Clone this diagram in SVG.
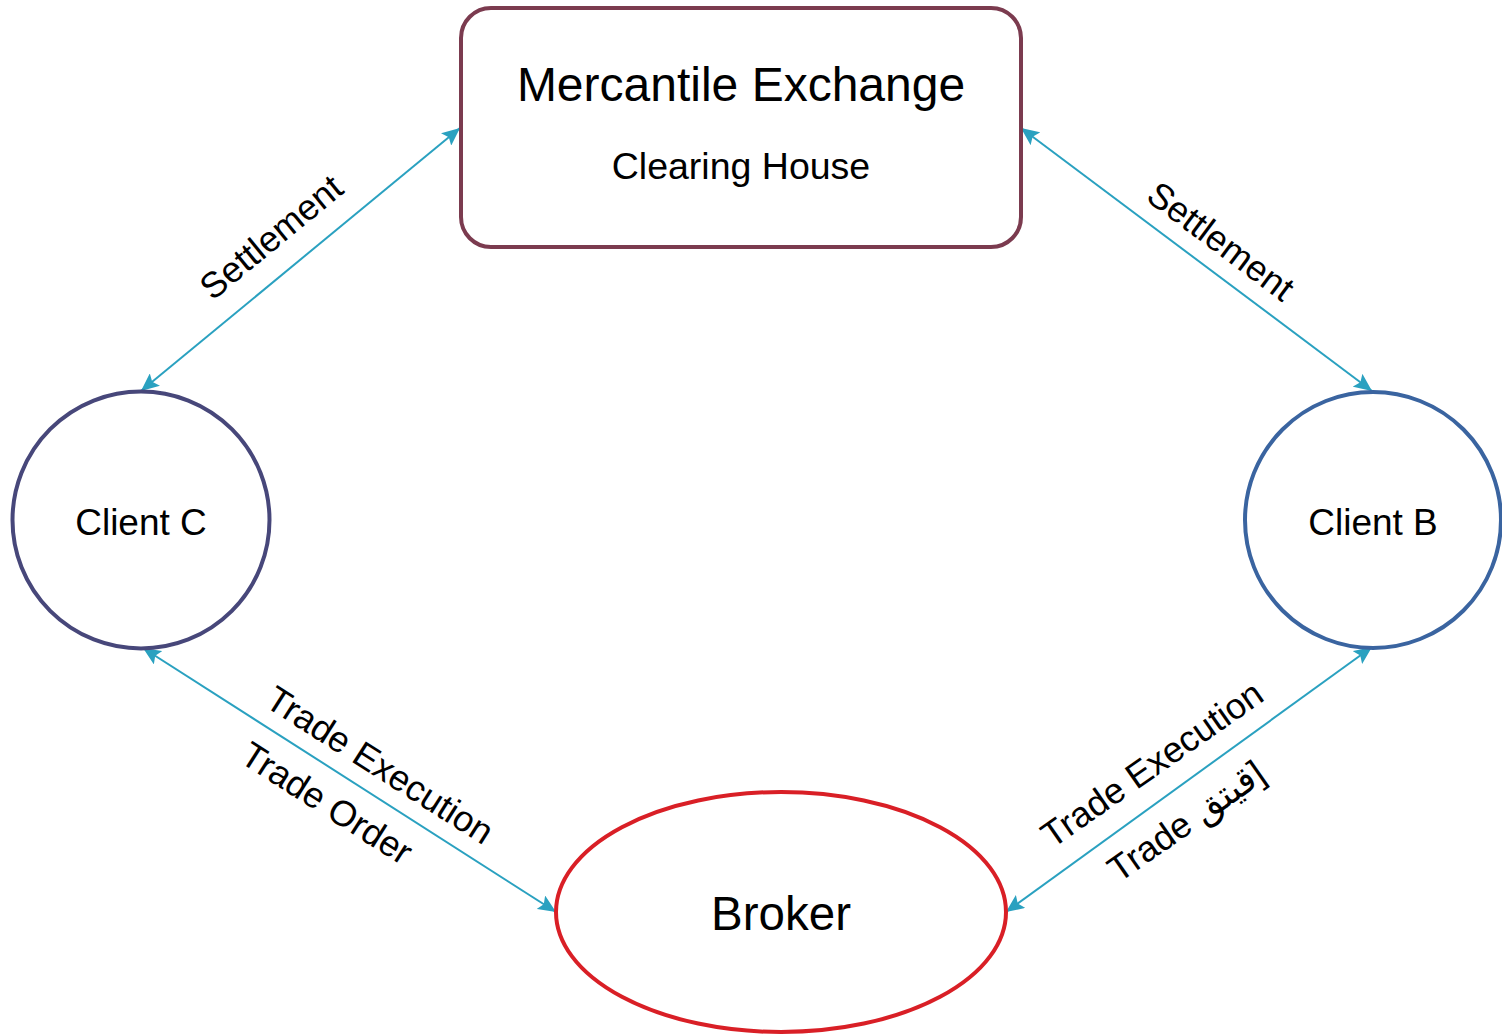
<svg xmlns="http://www.w3.org/2000/svg" width="1502" height="1034" viewBox="0 0 1502 1034">
<style>
text{font-family:"Liberation Sans","DejaVu Sans",Arial,sans-serif;fill:#000}
.lbl{font-size:36px;text-anchor:middle}
.node{fill:#fff;stroke-width:4}
.conn{stroke:#2aa1c0;stroke-width:2;fill:none;marker-start:url(#ah);marker-end:url(#ah)}
</style>
<defs>
<marker id="ah" markerUnits="userSpaceOnUse" markerWidth="20" markerHeight="16" refX="18" refY="8" orient="auto-start-reverse">
<path d="M0,0 L18,8 L0,16 L3.5,8 z" fill="#2aa1c0"/>
</marker>
</defs>
<rect width="1502" height="1034" fill="#fff"/>
<g id="connectors">
<line class="conn" x1="141" y1="391" x2="460" y2="128"/>
<line class="conn" x1="1021" y1="128" x2="1372" y2="391"/>
<line class="conn" x1="143" y1="648" x2="556" y2="912"/>
<line class="conn" x1="1372" y1="647" x2="1006" y2="912"/>
</g>
<g id="exchange">
<rect class="node" x="461" y="8" width="560" height="239" rx="30" stroke="#7b3b4f"/>
<text x="741" y="101" font-size="48" text-anchor="middle">Mercantile Exchange</text>
<text x="741" y="179" font-size="37.5" text-anchor="middle">Clearing House</text>
</g>
<g id="clientC">
<circle class="node" cx="141" cy="520" r="128.5" stroke="#47477a"/>
<text x="141" y="535" font-size="37" text-anchor="middle">Client C</text>
</g>
<g id="clientB">
<circle class="node" cx="1373" cy="520" r="128" stroke="#3a64a0"/>
<text x="1373" y="535" font-size="37" text-anchor="middle">Client B</text>
</g>
<g id="broker">
<ellipse class="node" cx="781" cy="912" rx="225" ry="120" stroke="#d91f26"/>
<text x="781" y="930" font-size="47.5" text-anchor="middle">Broker</text>
</g>
<g id="labels">
<text class="lbl" transform="translate(271,237) rotate(-39.5)" y="12.5">Settlement</text>
<text class="lbl" transform="translate(1221,241) rotate(36.8)" y="12.5">Settlement</text>
<text class="lbl" transform="translate(380,765) rotate(32.5)" y="12.5">Trade Execution</text>
<text class="lbl" transform="translate(327,803) rotate(32.5)" y="12.5">Trade Order</text>
<text class="lbl" transform="translate(1152,764) rotate(-35)" y="12.5">Trade Execution</text>
<text class="lbl" transform="translate(1186,821) rotate(-35)" y="12.5">Trade قيتق]</text>
</g>
</svg>
